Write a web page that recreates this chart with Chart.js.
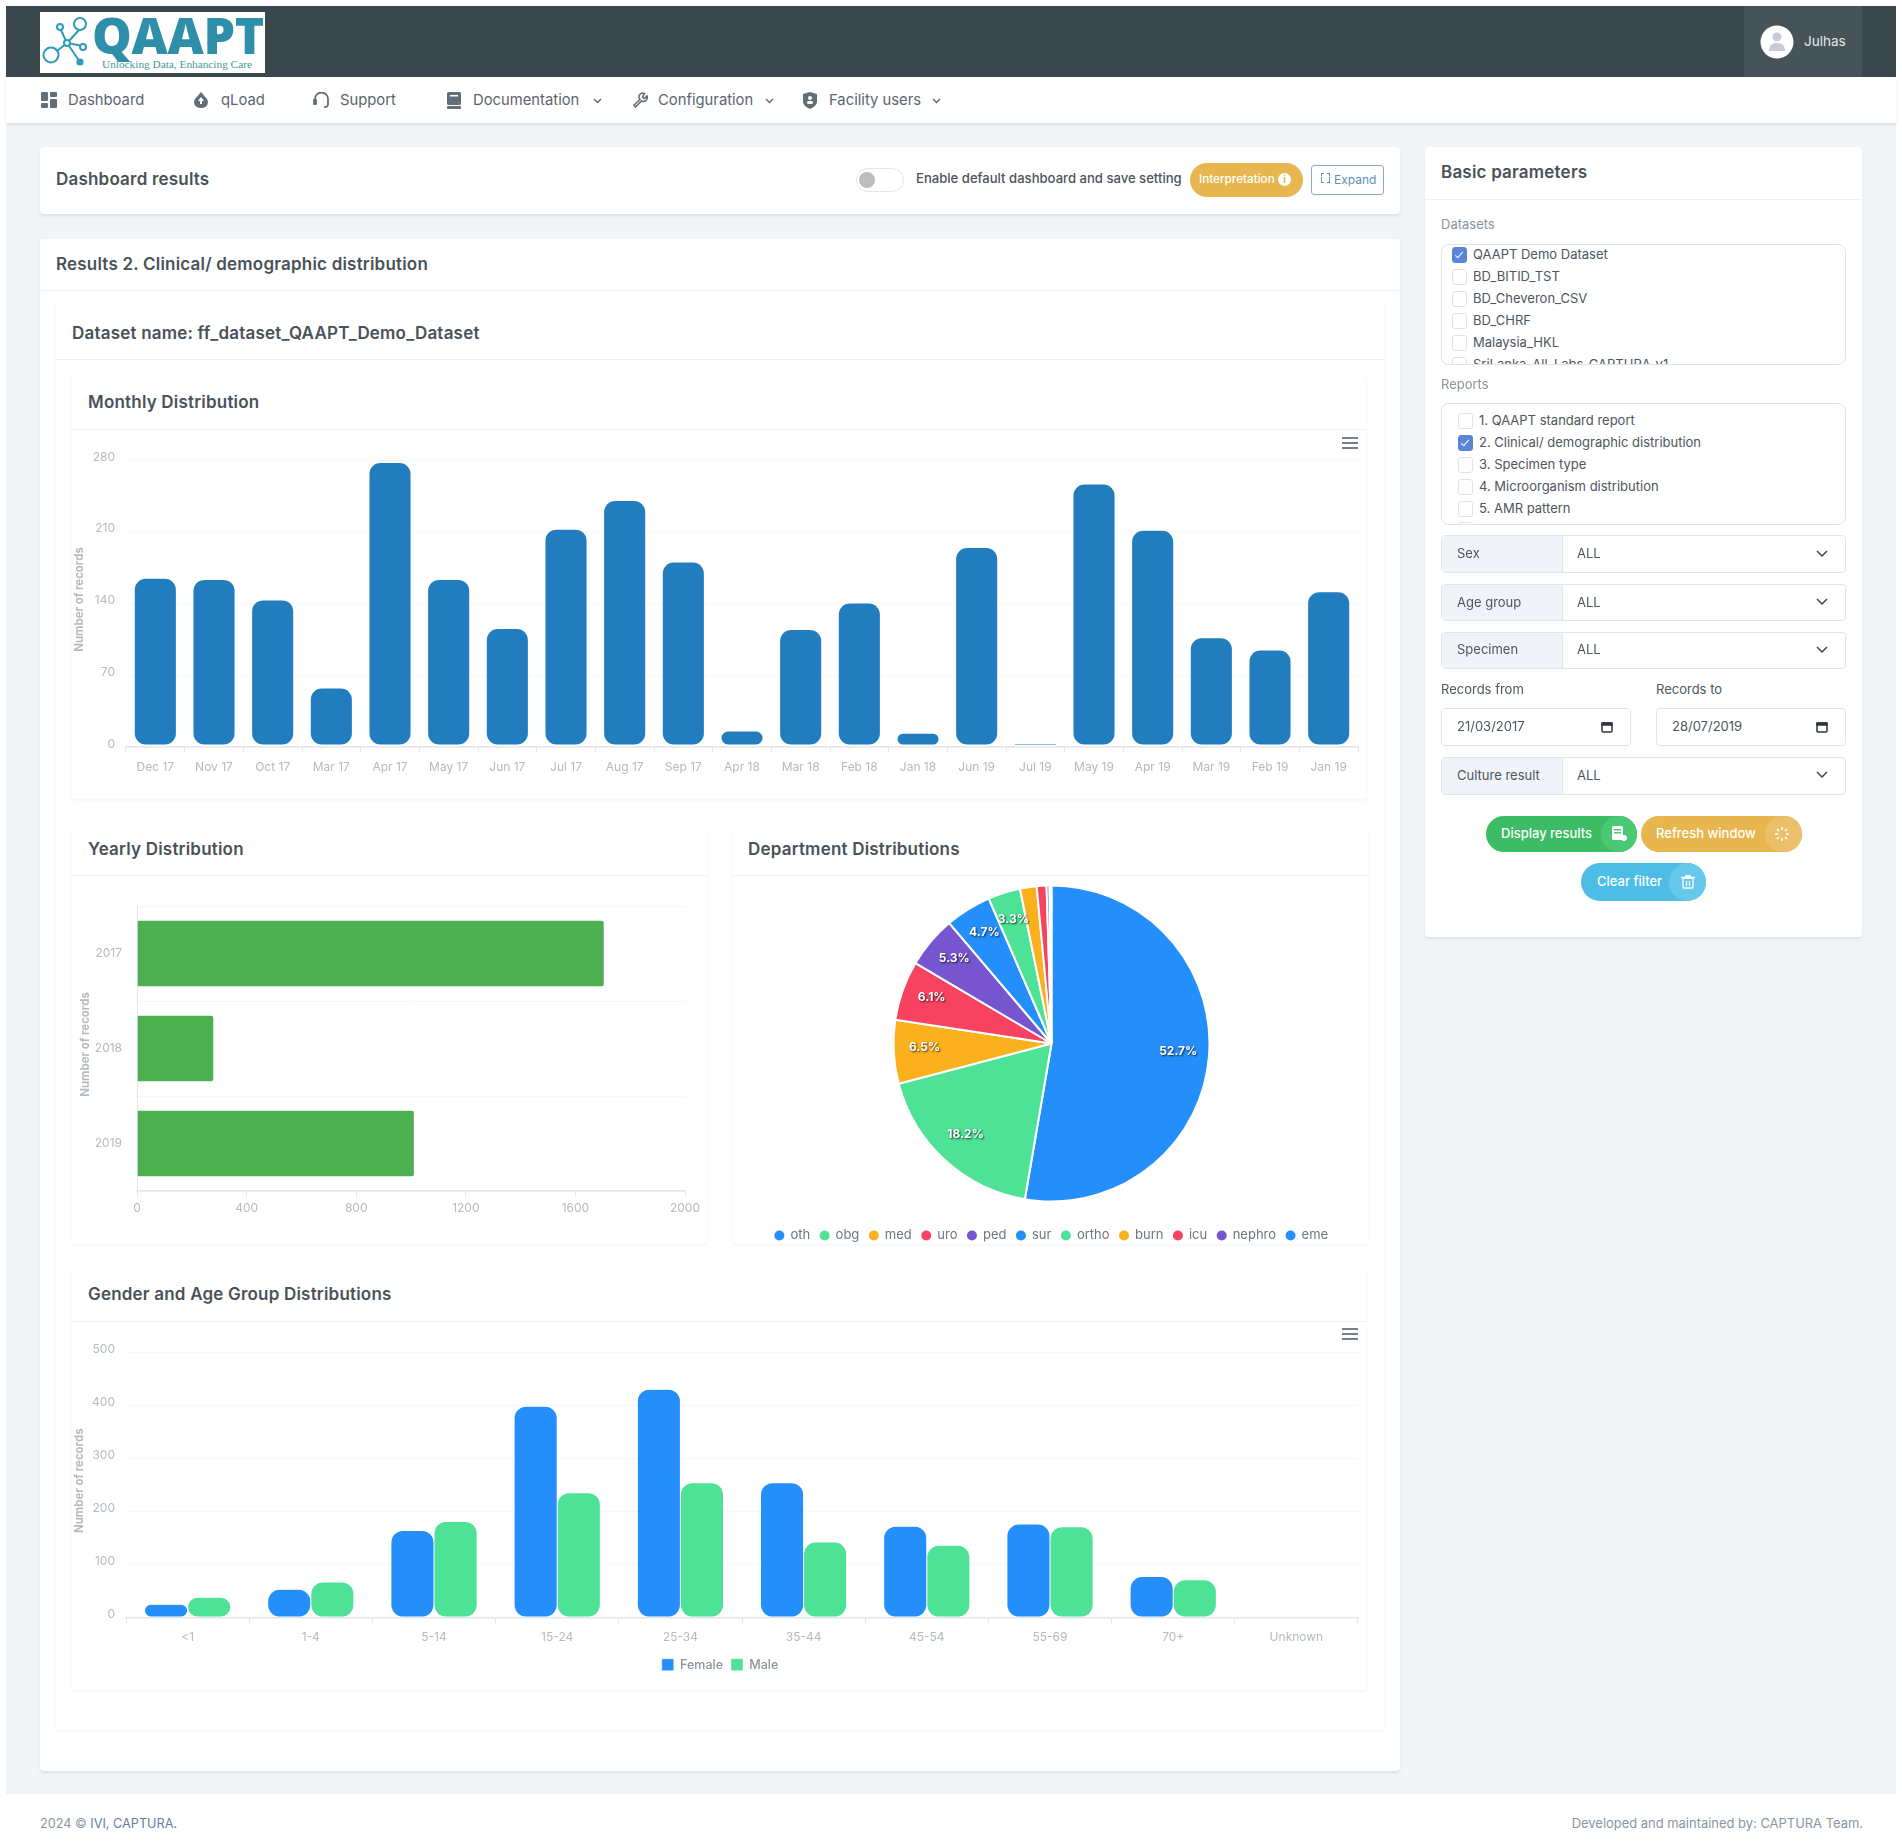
<!DOCTYPE html>
<html><head><meta charset="utf-8"><title>QAAPT Dashboard</title>
<script src="https://cdn.jsdelivr.net/npm/chart.js@4/dist/chart.umd.min.js"></script>
<style>
html,body{margin:0;padding:0;width:1902px;height:1841px;overflow:hidden;background:#fff;font-family:Inter,"Open Sans",sans-serif;color:#4b5560}
.a{position:absolute;box-sizing:border-box}
.t{position:absolute;white-space:nowrap;transform:translateY(-50%);line-height:1.2}
.card{position:absolute;box-sizing:border-box;background:#fff;border-radius:4px;box-shadow:0 2px 3px rgba(60,70,80,.10)}
.sub{position:absolute;box-sizing:border-box;background:#fff;border-radius:4px;box-shadow:0 1px 3px rgba(60,70,80,.07)}
.line{position:absolute;height:1px;background:#eef0f2}
.h{font-weight:600;font-size:17px;letter-spacing:.2px;color:#4a5259}
.nav{font-size:14.8px;color:#5b6570}
.s{font-size:13px;color:#4d5660}
.lab{font-size:13px;color:#8c949c}
.cb{position:absolute;width:15px;height:16px;box-sizing:border-box;border:1.5px solid #dfe2e6;border-radius:3px;background:#fff}
.cb.on{background:#5b85d9;border-color:#5b85d9}
.cb.on:after{content:"";position:absolute;left:4px;top:1.5px;width:3px;height:7px;border:solid #fff;border-width:0 1.6px 1.6px 0;transform:rotate(40deg)}
.box{position:absolute;box-sizing:border-box;border:1.5px solid #dfe3e7;border-radius:8px;overflow:hidden;background:#fff}
.sel{position:absolute;box-sizing:border-box;left:1441px;width:405px;border:1.5px solid #e2e5e9;border-radius:4px;background:#fff}
.sel .k{position:absolute;left:0;top:0;bottom:0;width:120px;background:#f0f3f8;border-right:1.5px solid #e2e5e9}
.pill{position:absolute;border-radius:19px;color:#fff;font-size:13px;font-weight:500;overflow:hidden}
canvas{position:absolute;display:block}
</style></head><body>
<div class="a" style="left:6px;top:123px;width:1890px;height:1671px;background:#f2f5f8"></div>
<div class="a" style="left:6px;top:6px;width:1890px;height:71px;background:#3a474c"></div>
<div class="a" style="left:1744px;top:6px;width:118px;height:71px;background:#46545a"></div>
<div class="a" style="left:6px;top:77px;width:1890px;height:46px;background:#fff;box-shadow:0 2px 3px rgba(60,70,80,.12)"></div>

<div class="a" style="left:40px;top:12px;width:225px;height:61px;background:#fff">
 <svg class="a" style="left:0;top:0" width="60" height="61" fill="none" stroke="#2f9bb6" stroke-width="2">
  <line x1="27" y1="31" x2="40" y2="17"/><line x1="27" y1="31" x2="20" y2="16"/><line x1="27" y1="31" x2="12" y2="43"/><line x1="27" y1="31" x2="40" y2="50"/><line x1="27" y1="31" x2="43" y2="34"/>
  <circle cx="40" cy="12" r="6" fill="#fff"/><circle cx="20" cy="15" r="3" fill="#fff"/><circle cx="11" cy="43" r="7.5" fill="#fff"/><circle cx="40" cy="50" r="2.6" fill="#2f9bb6"/><circle cx="43" cy="35" r="3" fill="#fff"/><circle cx="27" cy="31" r="3" fill="#fff"/>
 </svg>
 <div class="t" style="left:52px;top:23px;font-family:'Open Sans';font-weight:800;font-size:50px;letter-spacing:-.3px;color:#2f8fa9;line-height:1">QAAPT</div>
 <div class="t" style="left:62px;top:53px;font-family:'Liberation Serif';font-size:11.3px;color:#3f9c92">Unlocking Data, Enhancing Care</div>
</div>
<svg class="a" style="left:1760px;top:25px" width="34" height="34"><circle cx="17" cy="17" r="16.5" fill="#fff"/><circle cx="17" cy="12" r="4.5" fill="#c9c8d6"/><path d="M9 26c0-6 3.5-8 8-8s8 2 8 8z" fill="#c9c8d6"/></svg>
<div class="t" style="left:1804px;top:41px;font-size:13.5px;color:#e4e8ea">Julhas</div>

<!-- menu -->
<svg class="a" style="left:41px;top:92px" width="16" height="16" fill="#646e78"><rect width="7" height="9" rx="1"/><rect x="9" width="7" height="5" rx="1"/><rect y="11" width="7" height="5" rx="1"/><rect x="9" y="7" width="7" height="9" rx="1"/></svg>
<div class="t nav" style="left:68px;top:101px">Dashboard</div>
<svg class="a" style="left:193px;top:92px" width="16" height="16" fill="#646e78"><path d="M8 0l6 7c2 3 1 9-6 9S0 10 2 7z"/><path d="M8 5l3 4H9v3H7V9H5z" fill="#fff"/></svg>
<div class="t nav" style="left:221px;top:101px">qLoad</div>
<svg class="a" style="left:313px;top:92px" width="17" height="16" fill="none" stroke="#646e78" stroke-width="1.8"><path d="M2 9V7a6.5 6.5 0 0 1 13 0v2"/><path d="M15 9v3a3 3 0 0 1-4 3"/><rect x="1" y="8" width="2" height="4" fill="#646e78"/></svg>
<div class="t nav" style="left:340px;top:101px">Support</div>
<svg class="a" style="left:447px;top:92px" width="14" height="17" fill="#646e78"><rect width="14" height="13" rx="1.5"/><rect y="14" width="14" height="3" rx="1"/><rect x="3" y="3" width="8" height="1.5" fill="#fff"/></svg>
<div class="t nav" style="left:473px;top:101px">Documentation</div>
<svg class="a" style="left:593px;top:98px" width="9" height="6" fill="none" stroke="#5b6570" stroke-width="1.3"><path d="M1 1l3.5 3.5L8 1"/></svg>
<svg class="a" style="left:632px;top:92px" width="16" height="16" fill="none" stroke="#646e78" stroke-width="1.6"><path d="M10 1a4 4 0 0 0-2 6.500L2 13l1.500 2L9.500 9A4 4 0 0 0 15 4l-2.500 2.500L10.500 5 12.500 1.500z"/></svg>
<div class="t nav" style="left:658px;top:101px">Configuration</div>
<svg class="a" style="left:765px;top:98px" width="9" height="6" fill="none" stroke="#5b6570" stroke-width="1.3"><path d="M1 1l3.5 3.5L8 1"/></svg>
<svg class="a" style="left:803px;top:92px" width="14" height="17" fill="#646e78"><path d="M7 0l7 2v7c0 4-3 6-7 8-4-2-7-4-7-8V2z"/><circle cx="7" cy="6" r="2" fill="#fff"/><rect x="4" y="9" width="6" height="3" rx="1.500" fill="#fff"/></svg>
<div class="t nav" style="left:829px;top:101px">Facility users</div>
<svg class="a" style="left:932px;top:98px" width="9" height="6" fill="none" stroke="#5b6570" stroke-width="1.3"><path d="M1 1l3.5 3.5L8 1"/></svg>

<!-- results bar -->
<div class="card" style="left:40px;top:147px;width:1360px;height:67px"></div>
<div class="t h" style="left:56px;top:179px">Dashboard results</div>
<div class="a" style="left:856px;top:168px;width:48px;height:24px;border:1.500px solid #e3e5e8;border-radius:12px;background:#fff"></div>
<div class="a" style="left:859px;top:172px;width:16px;height:16px;border-radius:50%;background:#bdbdbd"></div>
<div class="t" style="left:916px;top:178.500px;font-size:13.1px;font-weight:500;color:#4b5560">Enable default dashboard and save setting</div>
<div class="a" style="left:1190px;top:163px;width:113px;height:34px;border-radius:17px;background:#e8b64e"></div>
<div class="t" style="left:1199px;top:179px;font-size:11.7px;font-weight:500;color:#fff">Interpretation</div>
<div class="a" style="left:1278px;top:173px;width:13px;height:13px;border-radius:50%;background:#fff;color:#e8b64e;font-size:10px;font-weight:700;text-align:center;line-height:13px">i</div>
<div class="a" style="left:1311px;top:165px;width:73px;height:30px;border:1.500px solid #8ea7bd;border-radius:3px;background:#fff"></div>
<div class="a" style="left:1321px;top:173px;width:9px;height:10px;border:1px dashed #5c8fc0"></div>
<div class="t" style="left:1334px;top:180px;font-size:12px;color:#5c8fc0">Expand</div>

<!-- results card -->
<div class="card" style="left:40px;top:239px;width:1360px;height:1532px"></div>
<div class="t h" style="left:56px;top:264px">Results 2. Clinical/ demographic distribution</div>
<div class="line" style="left:40px;top:290px;width:1360px"></div>
<div class="sub" style="left:56px;top:303px;width:1328px;height:1427px"></div>
<div class="t h" style="left:72px;top:333px">Dataset name: ff_dataset_QAAPT_Demo_Dataset</div>
<div class="line" style="left:56px;top:359px;width:1328px"></div>

<div class="sub" style="left:72px;top:376px;width:1295px;height:423px"></div>
<div class="t h" style="left:88px;top:401.500px">Monthly Distribution</div>
<div class="line" style="left:72px;top:429px;width:1295px"></div>
<canvas id="cMonthly" width="1295" height="360" style="left:72px;top:430px"></canvas>
<svg class="a" style="left:1342px;top:437px" width="16" height="12" fill="#76808a"><rect width="16" height="2"/><rect y="5" width="16" height="2"/><rect y="10" width="16" height="2"/></svg>

<div class="sub" style="left:72px;top:827px;width:636px;height:417px"></div>
<div class="t h" style="left:88px;top:849px">Yearly Distribution</div>
<div class="line" style="left:72px;top:875px;width:636px"></div>
<canvas id="cYearly" width="636" height="367" style="left:72px;top:876px"></canvas>

<div class="sub" style="left:732px;top:827px;width:636px;height:417px"></div>
<div class="t h" style="left:748px;top:849px">Department Distributions</div>
<div class="line" style="left:732px;top:875px;width:636px"></div>
<canvas id="cDept" width="641" height="384" style="left:731px;top:868px"></canvas>

<div class="sub" style="left:72px;top:1270px;width:1295px;height:420px"></div>
<div class="t h" style="left:88px;top:1294px">Gender and Age Group Distributions</div>
<div class="line" style="left:72px;top:1321px;width:1295px"></div>
<canvas id="cGender" width="1295" height="359" style="left:72px;top:1322px"></canvas>
<svg class="a" style="left:1342px;top:1328px" width="16" height="12" fill="#76808a"><rect width="16" height="2"/><rect y="5" width="16" height="2"/><rect y="10" width="16" height="2"/></svg>

<!-- side panel -->
<div class="card" style="left:1425px;top:147px;width:437px;height:790px"></div>
<div class="t h" style="left:1441px;top:172px">Basic parameters</div>
<div class="line" style="left:1425px;top:199px;width:437px"></div>
<div class="t lab" style="left:1441px;top:225px">Datasets</div>
<div class="box" style="left:1441px;top:244px;width:405px;height:121px">
 <div class="cb on" style="left:10px;top:2px"></div><div class="t s" style="left:31px;top:10px">QAAPT Demo Dataset</div>
 <div class="cb" style="left:10px;top:24px"></div><div class="t s" style="left:31px;top:32px">BD_BITID_TST</div>
 <div class="cb" style="left:10px;top:46px"></div><div class="t s" style="left:31px;top:54px">BD_Cheveron_CSV</div>
 <div class="cb" style="left:10px;top:68px"></div><div class="t s" style="left:31px;top:76px">BD_CHRF</div>
 <div class="cb" style="left:10px;top:90px"></div><div class="t s" style="left:31px;top:98px">Malaysia_HKL</div>
 <div class="cb" style="left:10px;top:112px"></div><div class="t s" style="left:31px;top:120px">SriLanka_All_Labs_CAPTURA_v1</div>
</div>
<div class="t lab" style="left:1441px;top:385px">Reports</div>
<div class="box" style="left:1441px;top:403px;width:405px;height:122px">
 <div class="cb" style="left:16px;top:9px"></div><div class="t s" style="left:37px;top:17px">1. QAAPT standard report</div>
 <div class="cb on" style="left:16px;top:31px"></div><div class="t s" style="left:37px;top:39px">2. Clinical/ demographic distribution</div>
 <div class="cb" style="left:16px;top:53px"></div><div class="t s" style="left:37px;top:60.500px">3. Specimen type</div>
 <div class="cb" style="left:16px;top:75px"></div><div class="t s" style="left:37px;top:83px">4. Microorganism distribution</div>
 <div class="cb" style="left:16px;top:97px"></div><div class="t s" style="left:37px;top:105px">5. AMR pattern</div>
 <div class="cb" style="left:16px;top:118px"></div>
</div>
<div class="sel" style="top:535px;height:38px"><div class="k"></div></div><div class="t s" style="left:1457px;top:554px">Sex</div><div class="t s" style="left:1577px;top:554px">ALL</div>
<div class="sel" style="top:584px;height:37px"><div class="k"></div></div><div class="t s" style="left:1457px;top:603px">Age group</div><div class="t s" style="left:1577px;top:603px">ALL</div>
<div class="sel" style="top:632px;height:37px"><div class="k"></div></div><div class="t s" style="left:1457px;top:650px">Specimen</div><div class="t s" style="left:1577px;top:650px">ALL</div>
<div class="sel" style="top:757px;height:38px"><div class="k"></div></div><div class="t s" style="left:1457px;top:776px">Culture result</div><div class="t s" style="left:1577px;top:776px">ALL</div>
<svg class="a" style="left:1816px;top:550px" width="12" height="8" fill="none" stroke="#3c444c" stroke-width="1.500"><path d="M1 1l5 5 5-5"/></svg>
<svg class="a" style="left:1816px;top:598px" width="12" height="8" fill="none" stroke="#3c444c" stroke-width="1.500"><path d="M1 1l5 5 5-5"/></svg>
<svg class="a" style="left:1816px;top:646px" width="12" height="8" fill="none" stroke="#3c444c" stroke-width="1.500"><path d="M1 1l5 5 5-5"/></svg>
<svg class="a" style="left:1816px;top:771px" width="12" height="8" fill="none" stroke="#3c444c" stroke-width="1.500"><path d="M1 1l5 5 5-5"/></svg>
<div class="t s" style="left:1441px;top:690px">Records from</div>
<div class="t s" style="left:1656px;top:690px">Records to</div>
<div class="a" style="left:1441px;top:708px;width:190px;height:38px;border:1.500px solid #e2e5e9;border-radius:4px"></div>
<div class="a" style="left:1656px;top:708px;width:190px;height:38px;border:1.500px solid #e2e5e9;border-radius:4px"></div>
<div class="t s" style="left:1457px;top:727px">21/03/2017</div>
<div class="t s" style="left:1672px;top:727px">28/07/2019</div>
<svg class="a" style="left:1601px;top:721px" width="12" height="12" fill="none" stroke="#2f363c" stroke-width="1.500"><rect x="1" y="2" width="10" height="9" rx="1"/><rect x="1" y="2" width="10" height="2" fill="#2f363c"/></svg>
<svg class="a" style="left:1816px;top:721px" width="12" height="12" fill="none" stroke="#2f363c" stroke-width="1.500"><rect x="1" y="2" width="10" height="9" rx="1"/><rect x="1" y="2" width="10" height="2" fill="#2f363c"/></svg>

<div class="pill" style="left:1486px;top:816px;width:151px;height:36px;background:#3cbc64"><div class="a" style="left:115px;top:0;width:40px;height:36px;background:#4ac873;border-radius:18px 0 0 18px"></div><div class="t" style="left:15px;top:18px">Display results</div><svg class="a" style="left:126px;top:10px" width="15" height="15" fill="#fff"><rect width="11" height="14" rx="1.500"/><rect x="2" y="3" width="7" height="1.500" fill="#4ac873"/><rect x="2" y="6" width="7" height="1.500" fill="#4ac873"/><circle cx="12" cy="12" r="3"/></svg></div>
<div class="pill" style="left:1641px;top:816px;width:161px;height:36px;background:#e8b64e"><div class="a" style="left:124px;top:0;width:40px;height:36px;background:#ecc06a;border-radius:18px 0 0 18px"></div><div class="t" style="left:15px;top:18px">Refresh window</div><svg class="a" style="left:134px;top:11px" width="14" height="14" fill="none" stroke="#fff" stroke-width="1.500"><path d="M7 0v3M7 11v3M0 7h3M11 7h3M2 2l2 2M10 10l2 2M12 2l-2 2M4 10l-2 2"/></svg></div>
<div class="pill" style="left:1581px;top:863px;width:125px;height:38px;background:#4ebde6"><div class="a" style="left:88px;top:0;width:40px;height:38px;background:#66c8ea;border-radius:19px 0 0 19px"></div><div class="t" style="left:16px;top:19px">Clear filter</div><svg class="a" style="left:100px;top:12px" width="14" height="14" fill="none" stroke="#fff" stroke-width="1.300"><rect x="2" y="3" width="10" height="10" rx="1"/><path d="M0 2.500h14M5 3v-2h4v2M5.500 6v5M8.500 6v5"/></svg></div>

<div class="t" style="left:40px;top:1824px;font-size:12.7px;color:#8a96a3">2024 © <span style="color:#5f7fa8">IVI, CAPTURA.</span></div>
<div class="t" style="right:39px;top:1824px;font-size:12.95px;color:#8a96a3">Developed and maintained by: CAPTURA Team.</div>

<script>
const monthLabels = ["Dec 17","Nov 17","Oct 17","Mar 17","Apr 17","May 17","Jun 17","Jul 17","Aug 17","Sep 17","Apr 18","Mar 18","Feb 18","Jan 18","Jun 19","Jul 19","May 19","Apr 19","Mar 19","Feb 19","Jan 19"];
const monthValues = [166,165,145,59,279,165,117,214,242,182,17,116,142,15,196,5,258,213,108,96,153];
const yearLabels = ["2017","2018","2019"];
const yearValues = [1707,282,1014];
const deptLabels = ["oth","obg","med","uro","ped","sur","ortho","burn","icu","nephro","eme"];
const deptValues = [52.7,18.2,6.5,6.1,5.3,4.7,3.3,1.7,1.0,0.3,0.2];
const ageLabels = ["<1","1-4","5-14","15-24","25-34","35-44","45-54","55-69","70+","Unknown"];
const femaleValues = [25,53,164,398,430,254,172,176,77,0];
const maleValues = [38,67,181,235,254,142,136,171,71,0];

const FONT = 'Inter';
Chart.defaults.font.family = FONT;
Chart.defaults.animation = false;
const TICK = '#b4bac0', GRID = '#f6f7f8', AXIS = '#e4e6e9';
const blue = '#248ffb', green = '#4de296', orange = '#fbb01e', red = '#f7435f', purple = '#7655cf';
const deptColors = [blue,green,orange,red,purple,blue,green,orange,red,purple,blue];

const yTitle = {display:true,text:'   Number of records',color:TICK,font:{size:11.4,weight:'700'},padding:{top:1,bottom:0}};
const fix = (w)=>function(s){ if(s.isHorizontal()) s.height = w; else s.width = w; };

function valueAxis(max, step, width, title){
  return {min:0,max,ticks:{stepSize:step,color:TICK,font:{size:12},padding:11,labelOffset:-3},
    grid:{color:GRID,drawTicks:false},border:{display:false},title:title||yTitle,afterFit:fix(width)};
}
function catAxis(h){
  return {ticks:{color:TICK,font:{size:12},padding:7,maxRotation:0,autoSkip:false},
    grid:{drawOnChartArea:false,tickLength:6,tickColor:AXIS},border:{color:AXIS,width:1.5},afterFit:fix(h)};
}

new Chart(document.getElementById('cMonthly'),{
  type:'bar',
  data:{labels:monthLabels,datasets:[{label:'Number of records',data:monthValues,backgroundColor:'#227dbe',borderColor:'#fff',borderWidth:2,borderRadius:13,borderSkipped:false,categoryPercentage:1,barPercentage:0.768}]},
  options:{responsive:false,devicePixelRatio:1,layout:{padding:{top:30,right:9}},plugins:{legend:{display:false},tooltip:{enabled:false}},
    scales:{x:catAxis(43),y:valueAxis(280,70,54)}}
});

new Chart(document.getElementById('cYearly'),{
  type:'bar',
  data:{labels:yearLabels,datasets:[{label:'Number of records',data:yearValues,backgroundColor:'#4caf50',borderColor:'#fff',borderWidth:1,borderRadius:{topRight:3,bottomRight:3},borderSkipped:'start',categoryPercentage:1,barPercentage:0.71}]},
  options:{indexAxis:'y',responsive:false,devicePixelRatio:1,layout:{padding:{top:30,right:23}},plugins:{legend:{display:false},tooltip:{enabled:false}},
    scales:{
      x:{min:0,max:2000,ticks:{stepSize:400,color:TICK,font:{size:12},padding:4,format:{useGrouping:false}},grid:{drawOnChartArea:false,tickLength:6,tickColor:AXIS},border:{color:AXIS,width:1.5},afterFit:fix(52)},
      y:{ticks:{color:TICK,font:{size:12},padding:15},grid:{color:GRID,drawTicks:false},border:{color:AXIS},title:{...yTitle,padding:{top:7,bottom:0}},afterFit:fix(65)}
    }}
});

const pieLabels = {
  id:'pieLabels',
  afterDatasetsDraw(chart){
    const {ctx} = chart;
    chart.getDatasetMeta(0).data.forEach((arc,i)=>{
      const v = deptValues[i];
      if(v < 3) return;
      const p = arc.getProps(['x','y','startAngle','endAngle','outerRadius'],true);
      const m = (p.startAngle+p.endAngle)/2, r = p.outerRadius*0.805;
      ctx.save();
      ctx.font = '700 12px '+FONT;
      ctx.fillStyle = '#fff';
      ctx.textAlign = 'center'; ctx.textBaseline = 'middle';
      ctx.shadowColor = 'rgba(0,0,0,.75)'; ctx.shadowBlur = 2; ctx.shadowOffsetX = 1; ctx.shadowOffsetY = 1;
      ctx.fillText(v.toFixed(1)+'%', p.x+Math.cos(m)*r, p.y+Math.sin(m)*r-3);
      ctx.restore();
    });
  }
};
new Chart(document.getElementById('cDept'),{
  type:'pie',
  data:{labels:deptLabels,datasets:[{data:deptValues,backgroundColor:deptColors,borderColor:'#fff',borderWidth:2,hoverOffset:0,radius:158}]},
  options:{responsive:false,devicePixelRatio:1,
    plugins:{tooltip:{enabled:false},legend:{position:'bottom',labels:{usePointStyle:true,pointStyle:'circle',boxWidth:9,boxHeight:8.5,padding:10,color:'#6d7780',font:{size:13}}}}},
  plugins:[pieLabels]
});

new Chart(document.getElementById('cGender'),{
  type:'bar',
  data:{labels:ageLabels,datasets:[
    {label:'Female',data:femaleValues,backgroundColor:blue,borderColor:'#fff',borderWidth:0.5,borderRadius:12,borderSkipped:false,categoryPercentage:0.7,barPercentage:1},
    {label:'Male',data:maleValues,backgroundColor:green,borderColor:'#fff',borderWidth:0.5,borderRadius:12,borderSkipped:false,categoryPercentage:0.7,barPercentage:1}]},
  options:{responsive:false,devicePixelRatio:1,layout:{padding:{top:30,right:9,left:10}},
    plugins:{tooltip:{enabled:false},legend:{position:'bottom',labels:{boxWidth:12,boxHeight:12,padding:8,color:'#8b949c',font:{size:12.5,weight:'500'}}}},
    scales:{x:catAxis(33),y:valueAxis(500,100,44,{...yTitle,padding:{top:-9,bottom:0}})}}
});
</script>
</body></html>
